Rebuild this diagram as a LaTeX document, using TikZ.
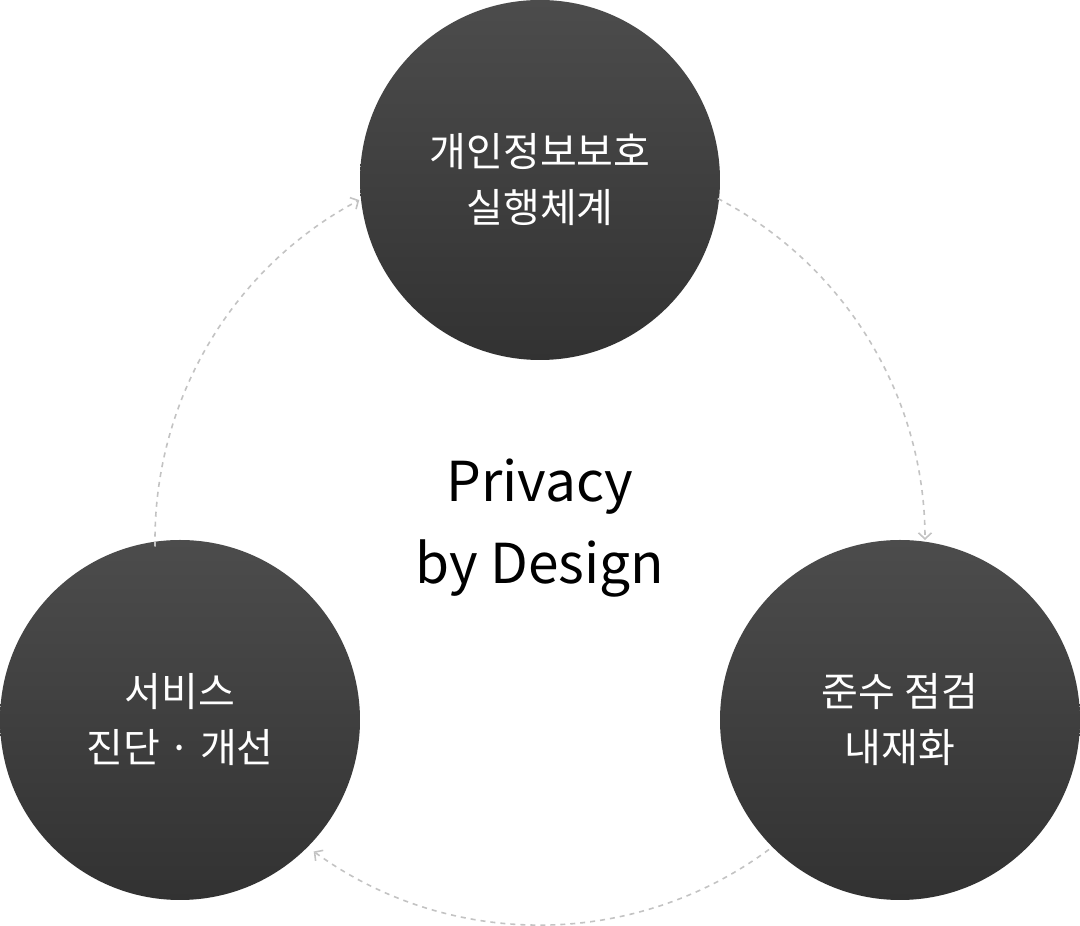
\documentclass[tikz,border=0pt]{standalone}
\usepackage{fontspec}
\setmainfont{Noto Sans CJK KR}
\usetikzlibrary{arrows.meta,calc}
\definecolor{ctop}{RGB}{76,76,76}
\definecolor{cbot}{RGB}{50,50,50}
\definecolor{dashc}{RGB}{195,195,195}
\begin{document}
\begin{tikzpicture}[x=1pt,y=1pt,
  ball/.style={circle,minimum size=360pt,inner sep=0pt,top color=ctop,bottom color=cbot,draw=none,
    text=white,align=center,font=\fontsize{40}{56}\selectfont},
  ring/.style={dashc,line width=1.6pt,dash pattern=on 5pt off 5pt,-{Straight Barb[length=6pt,width=13pt,line width=1.6pt]}}]
\useasboundingbox (0,0) rectangle (1080,926);
\node[ball] (top) at (540,746) {개인정보보호\\실행체계};
\node[ball] (left) at (180,206) {서비스\\진단 · 개선};
\node[ball] (right) at (900,206) {준수 점검\\내재화};
\node[align=center,font=\fontsize{55}{82}\selectfont] (c) at (540,398) {Privacy\\by Design};
\coordinate (o) at (540,386);
\coordinate (a1) at ($(o)+(181:385)$);
\coordinate (b1) at ($(o)+(62.5:385)$);
\coordinate (c1) at ($(o)+(-53.5:385)$);
\draw[ring] (a1) arc[start angle=181,end angle=118,radius=385];
\draw[ring] (b1) arc[start angle=62.5,end angle=0,radius=385];
\draw[ring] (c1) arc[start angle=-53.5,end angle=-126,radius=385];
\end{tikzpicture}
\end{document}
